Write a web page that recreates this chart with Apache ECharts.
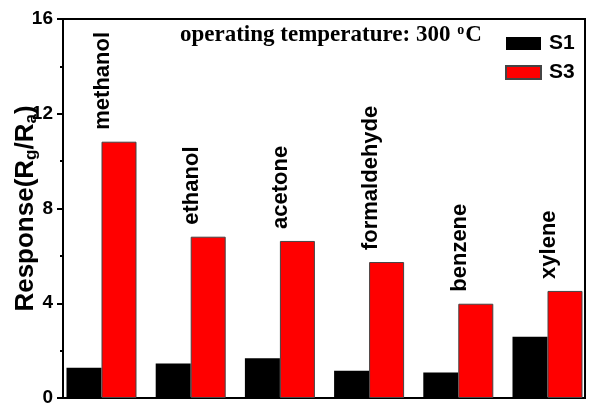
<!DOCTYPE html>
<html><head><meta charset="utf-8">
<script src="https://cdn.jsdelivr.net/npm/echarts@6/dist/echarts.min.js"></script>
<style>html,body{margin:0;padding:0;background:#fff}#c{width:601px;height:403px}</style>
</head><body><div id="c"></div>
<script>
const categories = ['methanol', 'ethanol', 'acetone', 'formaldehyde', 'benzene', 'xylene'];
const seriesNames = ['S1', 'S3'];
const s1Values = [1.28, 1.46, 1.68, 1.15, 1.08, 2.59];
const s3Values = [10.82, 6.81, 6.63, 5.74, 3.98, 4.52];
const yTicks = [0, 4, 8, 12, 16];

const SANS = 'Liberation Sans, Arial, sans-serif';
const SERIF = 'Liberation Serif, Times New Roman, serif';
const yMin = yTicks[0], yMax = yTicks[yTicks.length - 1], yStep = yTicks[1] - yTicks[0];

const chart = echarts.init(document.getElementById('c'), null, {renderer: 'canvas'});
chart.setOption({
  animation: false,
  backgroundColor: '#fff',
  title: {
    text: 'operating temperature: 300 {sup|o}C',
    left: 180, top: 23, padding: 0,
    textStyle: {
      fontFamily: SERIF, fontWeight: 'bold', fontSize: 23, color: '#000',
      rich: {sup: {fontFamily: SERIF, fontWeight: 'bold', fontSize: 14, color: '#000', padding: [0, 1, 10, 1]}}
    }
  },
  legend: {
    orient: 'vertical', left: 505, top: 33, padding: 0,
    itemWidth: 35, itemHeight: 13, itemGap: 8, icon: 'rect',
    data: seriesNames,
    textStyle: {fontFamily: SANS, fontWeight: 'bold', fontSize: 21, color: '#000', padding: [0, 0, 0, 3]}
  },
  grid: [
    {left: 56.9, right: 8.9, top: 19, bottom: 5, outerBoundsMode: 'none', containLabel: false},
    {left: 63, right: 16, top: 19, bottom: 5, outerBoundsMode: 'none', containLabel: false,
     show: true, borderColor: '#000', borderWidth: 2, backgroundColor: 'transparent'}
  ],
  xAxis: [
    {type: 'category', data: categories, gridIndex: 0, show: false},
    {type: 'value', gridIndex: 1, show: false, min: 0, max: 1}
  ],
  yAxis: [
    {type: 'value', gridIndex: 0, min: yMin, max: yMax, interval: yStep, show: false},
    {
      type: 'value', gridIndex: 1, min: yMin, max: yMax, interval: yStep,
      name: 'Response(R{sub|g}/R{sub|a})', nameLocation: 'middle', nameGap: 23, nameRotate: 90,
      nameMoveOverlap: false,
      nameTextStyle: {
        fontFamily: SANS, fontWeight: 'bold', fontSize: 26, color: '#000',
        rich: {sub: {fontFamily: SANS, fontWeight: 'bold', fontSize: 17, color: '#000', padding: [12, 0, 0, 0]}}
      },
      axisLine: {show: true, lineStyle: {color: '#000', width: 2}},
      axisTick: {show: true, inside: false, length: 6, lineStyle: {color: '#000', width: 2}},
      minorTick: {show: true, splitNumber: 2, length: 3, lineStyle: {color: '#000', width: 2}},
      splitLine: {show: false},
      axisLabel: {fontFamily: SANS, fontWeight: 'bold', fontSize: 19, color: '#000', margin: 10}
    }
  ],
  series: [
    {
      name: seriesNames[0], type: 'bar', xAxisIndex: 0, yAxisIndex: 0,
      data: s1Values, barWidth: 35, barGap: '0%',
      itemStyle: {color: '#000', borderColor: '#000', borderWidth: 0}
    },
    {
      name: seriesNames[1], type: 'bar', xAxisIndex: 0, yAxisIndex: 0,
      data: s3Values, barWidth: 35, barGap: '0%',
      itemStyle: {color: '#ff0000', borderColor: '#444', borderWidth: 1},
      label: {
        show: true, position: 'top', distance: 12, rotate: 90,
        align: 'left', verticalAlign: 'middle', offset: [0, -16],
        formatter: p => categories[p.dataIndex],
        fontFamily: SANS, fontWeight: 'bold', fontSize: 22, color: '#000'
      }
    }
  ]
});
</script></body></html>
